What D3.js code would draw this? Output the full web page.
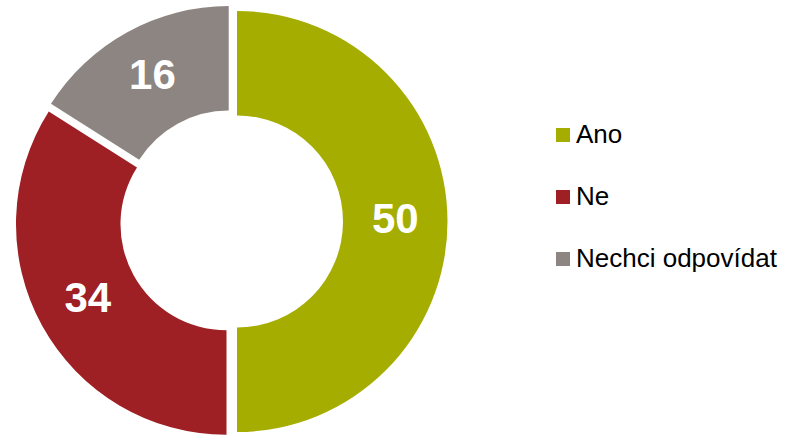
<!DOCTYPE html>
<html>
<head>
<meta charset="utf-8">
<script src="https://cdn.jsdelivr.net/npm/d3@7"></script>
<style>
  body { margin: 0; background: #fff; }
  svg { display: block; font-family: "Liberation Sans", Arial, sans-serif; }
</style>
</head>
<body>
<svg id="chart" width="787" height="435"></svg>
<script>
// data
var categories = ["Ano", "Ne", "Nechci odpovídat"];
var values = [50, 34, 16];
var colors = ["#a5ad00", "#9e1f24", "#8d8581"];

var svg = d3.select("#chart");

var cx = 231.4, cy = 221.5;
var outerR = 210.5, innerR = 106;
var explode = 5.6;

var pie = d3.pie().sort(null).value(function(d){ return d; });
var arc = d3.arc().innerRadius(innerR).outerRadius(outerR);

var arcs = pie(values);

var g = svg.append("g").attr("transform", "translate(" + cx + "," + cy + ")");

var slice = g.selectAll("g.slice")
    .data(arcs)
    .enter()
    .append("g")
    .attr("class", "slice")
    .attr("transform", function(d){
        var a = (d.startAngle + d.endAngle) / 2;
        return "translate(" + (Math.sin(a) * explode) + "," + (-Math.cos(a) * explode) + ")";
    });

slice.append("path")
    .attr("d", arc)
    .attr("fill", function(d, i){ return colors[i]; });

slice.append("text")
    .attr("x", function(d){ return arc.centroid(d)[0]; })
    .attr("y", function(d){ return arc.centroid(d)[1]; })
    .attr("dy", "0.27em")
    .attr("text-anchor", "middle")
    .attr("fill", "#fff")
    .style("font-size", "42px")
    .style("font-weight", "bold")
    .text(function(d){ return d.data; });

// legend
var legend = svg.append("g").attr("transform", "translate(556,128)");

var item = legend.selectAll("g")
    .data(categories)
    .enter()
    .append("g")
    .attr("transform", function(d, i){ return "translate(0," + (i * 62) + ")"; });

item.append("rect")
    .attr("width", 14)
    .attr("height", 14)
    .attr("fill", function(d, i){ return colors[i]; });

item.append("text")
    .attr("x", 20)
    .attr("y", 15)
    .attr("fill", "#000")
    .style("font-size", "26px")
    .text(function(d){ return d; });
</script>
</body>
</html>
